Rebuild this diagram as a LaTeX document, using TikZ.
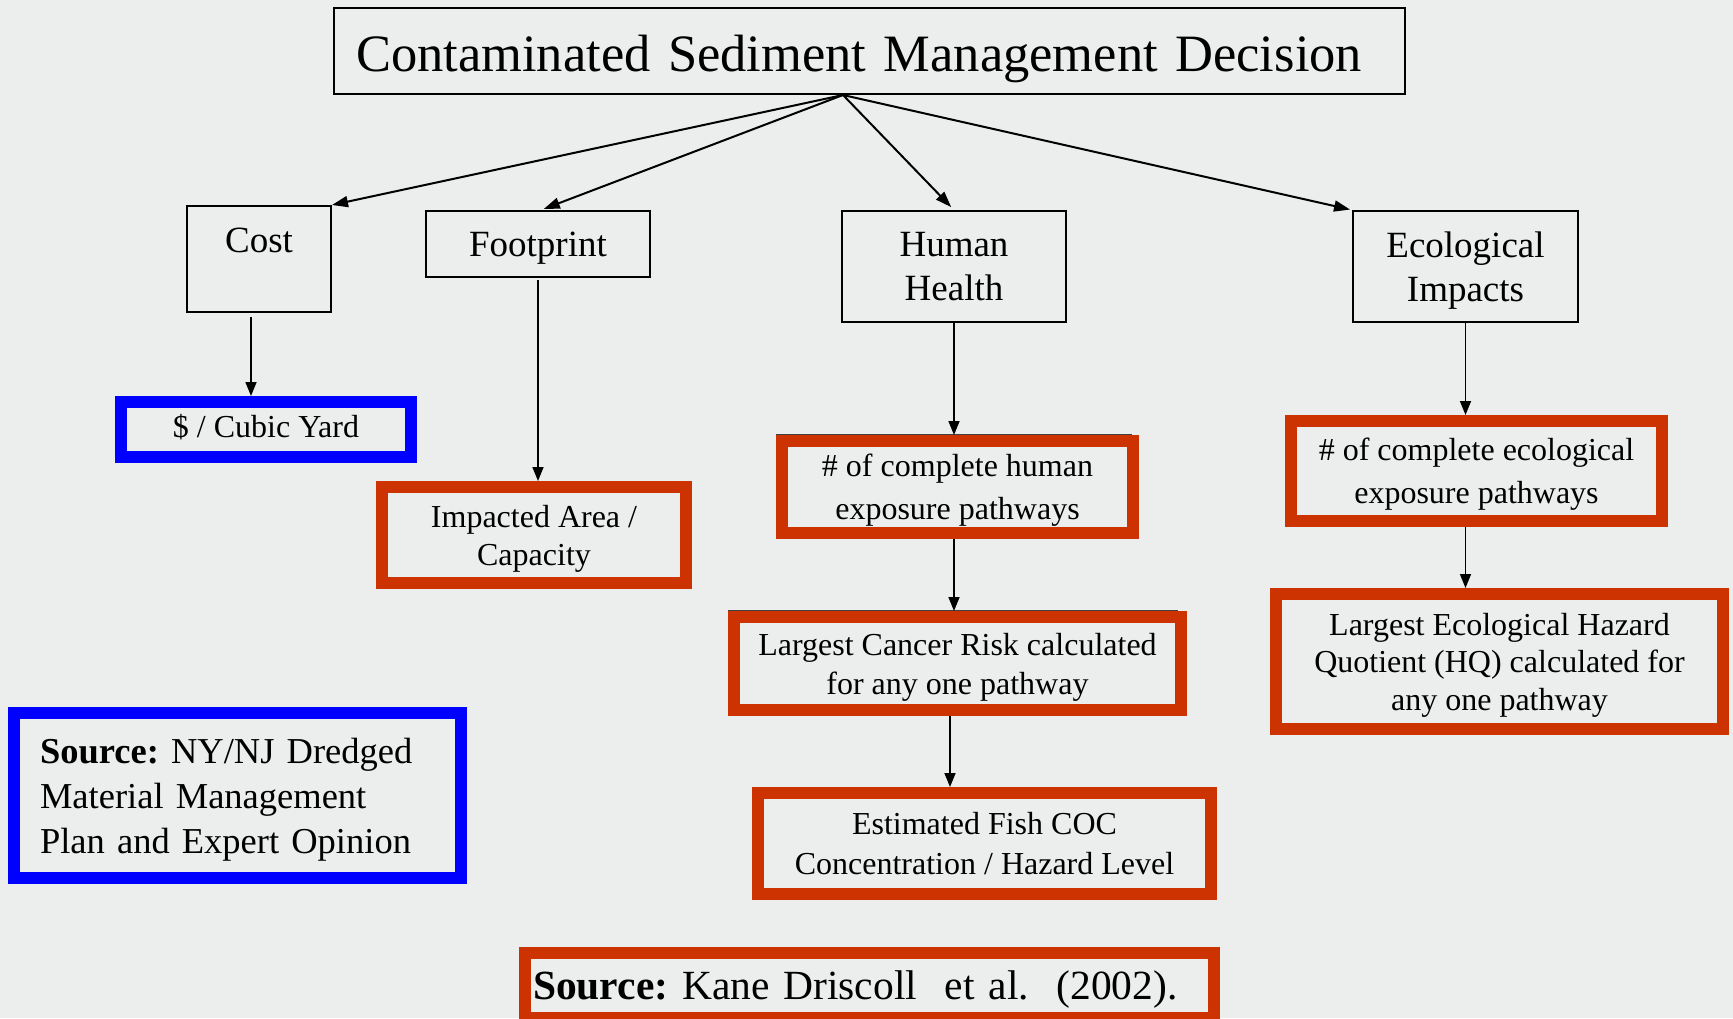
\documentclass[tikz,border=0pt]{standalone}
\usepackage{fontspec}
\setmainfont{Liberation Serif}
\usetikzlibrary{arrows.meta,calc}
\definecolor{bgc}{HTML}{ECEEED}
\definecolor{redb}{HTML}{CC3300}
\definecolor{blueb}{HTML}{0000FF}
\frenchspacing
\tikzset{
  plainbox/.style={draw=black,line width=2pt,inner sep=0pt,outer sep=1pt,align=center,
    text depth=0pt,font=\fontsize{37}{44}\selectfont},
  redbox/.style={draw=redb,line width=12pt,inner sep=0pt,outer sep=6pt,align=center,
    text depth=0pt,font=\fontsize{32}{40}\selectfont},
  bluebox/.style={redbox,draw=blueb},
  arr/.style={-{Triangle[length=14pt,width=11pt]},line width=1.6pt,black},
  darr/.style={-{Triangle[length=16pt,width=11pt]},line width=2pt,black},
  seam/.style={line width=1.5pt,black!75}
}
\begin{document}
\begin{tikzpicture}[x=1pt,y=-1pt]
\useasboundingbox (0,0) rectangle (1733,1018);
\fill[bgc] (0,0) rectangle (1733,1018);

% title
\node[plainbox,minimum width=1071pt,minimum height=86pt,text width=1027pt,align=left,
  text height=40pt,font=\fontsize{52.5}{60}\selectfont] (title) at (869.5,51)
  {Contaminated Sediment Management Decision};
\coordinate (hub) at ([xshift=-26.5pt]title.south);

% level 1
\node[plainbox,minimum width=144pt,minimum height=106pt,text height=25pt,text depth=39pt] (cost) at (259,259) {Cost};
\node[plainbox,minimum width=224pt,minimum height=66pt] (foot) at (538,244) {Footprint};
\node[plainbox,minimum width=224pt,minimum height=111pt] (human) at (954,266.5) {Human\\Health};
\node[plainbox,minimum width=225pt,minimum height=111pt] (eco) at (1465.5,266.5) {Ecological\\Impacts};

% measures
\node[bluebox,minimum width=290pt,minimum height=55pt,text depth=7pt] (dollar) at (266,429.5) {\$ / Cubic Yard};
\node[redbox,minimum width=304pt,minimum height=96pt,font=\fontsize{32}{38}\selectfont] (impact) at (534,535) {Impacted Area /\\Capacity};
\node[redbox,minimum width=351pt,minimum height=92pt,font=\fontsize{32}{43}\selectfont] (hexp) at (957.5,487) {\# of complete human\\exposure pathways};
\node[redbox,minimum width=447pt,minimum height=93pt,font=\fontsize{32}{39}\selectfont] (cancer) at (957.5,663.5) {Largest Cancer Risk calculated\\for any one pathway};
\node[redbox,minimum width=453pt,minimum height=101pt] (fish) at (984.5,843.5) {Estimated Fish COC\\Concentration / Hazard Level};
\node[redbox,minimum width=371pt,minimum height=100pt,font=\fontsize{32}{43}\selectfont] (eexp) at (1476.5,471) {\# of complete ecological\\exposure pathways};
\node[redbox,minimum width=447pt,minimum height=135pt,font=\fontsize{32}{37.5}\selectfont] (ehq) at (1499.5,661.5) {Largest Ecological Hazard\\Quotient (HQ) calculated for\\any one pathway};

% sources
\node[bluebox,minimum width=447pt,minimum height=165pt,text width=395pt,align=left,
  text height=25pt,text depth=90pt,
  font=\fontsize{36.5}{45}\selectfont] (nynj) at (237.5,795.5)
  {\textbf{Source:} NY/NJ Dredged\\Material Management\\Plan and Expert Opinion};
\node[redbox,minimum width=689pt,minimum height=65pt,text width=673pt,align=left,
  font=\fontsize{41.5}{48}\selectfont] (kane) at (869.5,985.5)
  {\textbf{Source:} Kane Driscoll\ \ et al.\ \ (2002).};

% seams above two boxes
\draw[seam] ([yshift=0.5pt]hexp.north west) -- ([xshift=-7pt,yshift=0.5pt]hexp.north east);
\draw[seam] ([yshift=0.5pt]cancer.north west) -- ([xshift=-9pt,yshift=0.5pt]cancer.north east);

% connectors from the decision
\draw[darr] (hub) -- (cost.north east);
\draw[darr,shorten >=3pt] (hub) -- ([xshift=3pt]foot.north);
\draw[darr,shorten >=4pt] (hub) -- (human.north);
\draw[darr,shorten >=2pt] (hub) -- (eco.north west);

% vertical connectors
\coordinate (c1) at ([xshift=-8pt]cost.south);
\draw[arr,shorten <=4pt] (c1) -- (c1 |- dollar.north);
\draw[arr,shorten <=2pt] (foot.south) -- (foot.south |- impact.north);
\draw[arr] (human.south) -- (human.south |- hexp.north);
\coordinate (h2) at ([xshift=-3.5pt]hexp.south);
\draw[arr] (h2) -- (h2 |- cancer.north);
\coordinate (f1) at ([xshift=-7.5pt]cancer.south);
\draw[arr] (f1) -- (f1 |- fish.north);
\draw[arr] (eco.south) -- (eco.south |- eexp.north);
\coordinate (e2) at (eco.south |- eexp.south);
\draw[arr] (e2) -- (e2 |- ehq.north);
\end{tikzpicture}
\end{document}
